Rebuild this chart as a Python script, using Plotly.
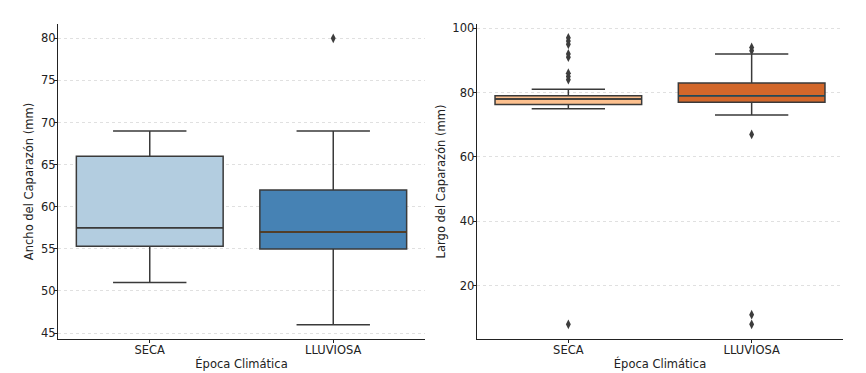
import plotly.graph_objects as go

# ---- data ----
categories = ["SECA", "LLUVIOSA"]

# Ancho del Caparazón (mm)
ancho_q1 = [55.3, 55.0]
ancho_median = [57.5, 57.0]
ancho_q3 = [66.0, 62.0]
ancho_low = [51.0, 46.0]
ancho_high = [69.0, 69.0]
ancho_outliers = [[], [80.0]]

# Largo del Caparazón (mm)
largo_q1 = [76.3, 77.0]
largo_median = [78.0, 79.0]
largo_q3 = [79.0, 83.0]
largo_low = [75.0, 73.0]
largo_high = [81.0, 92.0]
largo_outliers = [[8, 84, 85, 86, 91, 92, 95, 96, 97], [8, 11, 67, 93, 94]]

ancho_colors = ["#b3cde0", "#4682b4"]
largo_colors = ["#fdc08e", "#d2672a"]
ancho_median_colors = ["#3a3a3a", "#5a3a18"]
largo_median_colors = ["#3a3a3a", "#1e4a5a"]

FONT = "DejaVu Sans"
EDGE = "#3a3a3a"

fig = go.Figure()


def add_panel(xa, ya, q1, med, q3, lo, hi, outl, colors, mcolors):
    for i, cat in enumerate(categories):
        fig.add_trace(go.Box(
            x=[i], q1=[q1[i]], median=[med[i]], q3=[q3[i]],
            lowerfence=[lo[i]], upperfence=[hi[i]],
            width=0.8, whiskerwidth=0.5,
            fillcolor=colors[i], line=dict(color=EDGE, width=1.5),
            boxpoints=False, xaxis=xa, yaxis=ya, showlegend=False,
        ))
        fig.add_shape(type="line", x0=i - 0.4, x1=i + 0.4, y0=med[i], y1=med[i],
                      xref=xa, yref=ya, line=dict(color=mcolors[i], width=1.5))
        if outl[i]:
            fig.add_trace(go.Scatter(
                x=[i] * len(outl[i]), y=outl[i], mode="markers",
                marker=dict(symbol="diamond-tall", size=7, color="#3d3d3d"),
                xaxis=xa, yaxis=ya, showlegend=False,
            ))


add_panel("x", "y", ancho_q1, ancho_median, ancho_q3, ancho_low, ancho_high,
          ancho_outliers, ancho_colors, ancho_median_colors)
add_panel("x2", "y2", largo_q1, largo_median, largo_q3, largo_low, largo_high,
          largo_outliers, largo_colors, largo_median_colors)

W, H = 866, 373
ytop, ybot = 24, 339

common_x = dict(tickmode="array", tickvals=[0, 1], ticktext=categories,
                range=[-0.5, 1.5], showgrid=False, zeroline=False,
                showline=True, linecolor="#222", linewidth=1.2,
                ticks="outside", ticklen=3, tickcolor="#222", automargin=False,
                ticklabelstandoff=-3,
                tickfont=dict(family=FONT, size=11.5, color="#222"),
                title=dict(text="Época Climática", standoff=4,
                           font=dict(family=FONT, size=11.5, color="#222")))
common_y = dict(showgrid=True, gridcolor="#e0e0e0", griddash="dot", gridwidth=0.8,
                zeroline=False, showline=True, linecolor="#222", linewidth=1.2,
                ticks="outside", ticklen=3, tickcolor="#222", automargin=False,
                ticklabelstandoff=-4,
                tickfont=dict(family=FONT, size=11.5, color="#222"))

fig.update_layout(
    width=W, height=H,
    margin=dict(l=0, r=0, t=0, b=0),
    paper_bgcolor="white", plot_bgcolor="white",
    xaxis=dict(domain=[58 / W, 425 / W], anchor="y", **common_x),
    yaxis=dict(domain=[1 - ybot / H, 1 - ytop / H], anchor="x",
               range=[44.3, 81.7], tickvals=[45, 50, 55, 60, 65, 70, 75, 80],
               title=dict(text="Ancho del Caparazón (mm)", standoff=4,
                          font=dict(family=FONT, size=11.5, color="#222")),
               **common_y),
    xaxis2=dict(domain=[476.7 / W, 843.3 / W], anchor="y2", **common_x),
    yaxis2=dict(domain=[1 - ybot / H, 1 - ytop / H], anchor="x2",
                range=[3.45, 101.3], tickvals=[20, 40, 60, 80, 100],
                title=dict(text="Largo del Caparazón (mm)", standoff=4,
                           font=dict(family=FONT, size=11.5, color="#222")),
                **common_y),
)

fig.write_html("out.html", config={"displayModeBar": False},
               post_script="document.body.style.margin='0';document.body.style.overflow='hidden';")
